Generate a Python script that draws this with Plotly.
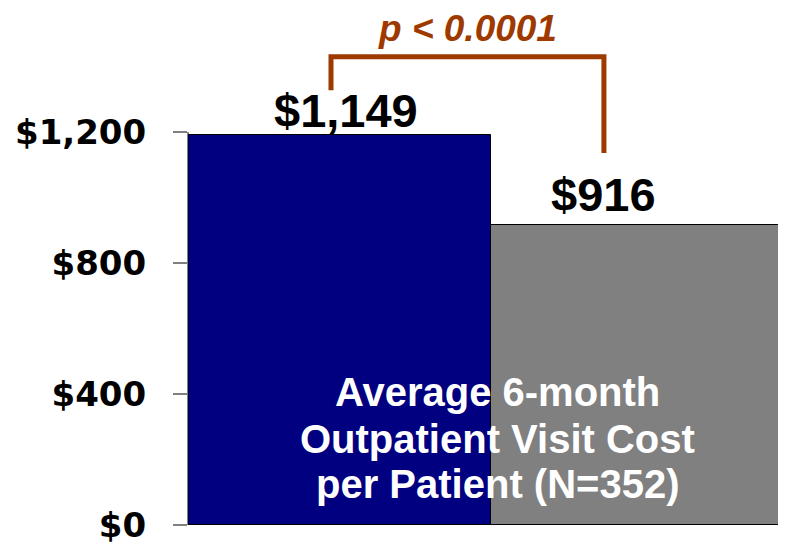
"""
    Outpatient visit cost bar chart
"""

import plotly.graph_objects as go

# data
groups = ["Group A", "Group B"]
bar_heights = [1192, 916]
value_labels = ["$1,149", "$916"]
bar_colors = ["#000080", "#808080"]
tick_values = [0, 400, 800, 1200]
tick_labels = ["$0", "$400", "$800", "$1,200"]
p_text = "p < 0.0001"
center_lines = ["Average 6-month", "Outpatient Visit Cost", "per Patient (N=352)"]

BRACKET = "#9E3A00"


def build_figure():
    fig = go.Figure()

    fig.add_trace(go.Bar(
        x=[0, 1], y=bar_heights,
        width=1.0,
        marker=dict(color=bar_colors, line=dict(color="#000000", width=1)),
        hoverinfo="skip",
    ))

    # significance bracket (left leg, top, right leg)
    bx = [-0.028, -0.028, 0.873, 0.873]
    by = [1328, 1430, 1430, 1136]
    fig.add_trace(go.Scatter(
        x=bx, y=by, mode="lines",
        line=dict(color=BRACKET, width=5),
        hoverinfo="skip",
    ))

    value_font = dict(family="Liberation Sans, Arial", size=47, color="#000000")
    fig.add_annotation(x=0.02, y=bar_heights[0], text="<b>%s</b>" % value_labels[0],
                       showarrow=False, yanchor="bottom", yshift=-4, font=value_font)
    fig.add_annotation(x=0.873, y=bar_heights[1], text="<b>%s</b>" % value_labels[1],
                       showarrow=False, yanchor="bottom", yshift=2, font=value_font)

    fig.add_annotation(x=0.423, y=1515, text="<b><i>%s</i></b>" % p_text,
                       showarrow=False,
                       font=dict(family="Liberation Sans, Arial", size=37, color=BRACKET))

    # three-line caption, tighter line spacing than plotly's <br>
    for line, yy in zip(center_lines, [405, 262, 124]):
        fig.add_annotation(x=0.52, y=yy, text="<b>%s</b>" % line,
                           showarrow=False,
                           font=dict(family="Liberation Sans, Arial", size=40,
                                     color="#FFFFFF"))

    # y axis line stops at the top tick
    fig.add_shape(type="line", xref="paper", yref="y", x0=0, x1=0,
                  y0=0, y1=tick_values[-1], line=dict(color="#000000", width=1))

    # page body has an 8px margin, so the figure is a little smaller than the window
    fig.update_layout(
        width=778, height=534,
        margin=dict(l=180, r=0, t=0, b=17, autoexpand=False),
        paper_bgcolor="#FFFFFF", plot_bgcolor="#FFFFFF",
        showlegend=False,
        bargap=0,
        xaxis=dict(range=[-0.5, 1.474], showticklabels=False, ticks="",
                   showgrid=False, zeroline=False, showline=False, automargin=False),
        yaxis=dict(range=[0, 1579], tickvals=tick_values, ticktext=tick_labels,
                   ticks="outside", ticklen=14, tickcolor="#808080", tickwidth=2,
                   showline=False, automargin=False, ticklabeloverflow="allow",
                   showgrid=False, zeroline=False,
                   ticklabelstandoff=20,
                   tickfont=dict(family="DejaVu Sans", size=34, color="#000000",
                                 weight="bold")),
    )
    return fig


if __name__ == '__main__':
    fig = build_figure()
    fig.write_html("out.html")
